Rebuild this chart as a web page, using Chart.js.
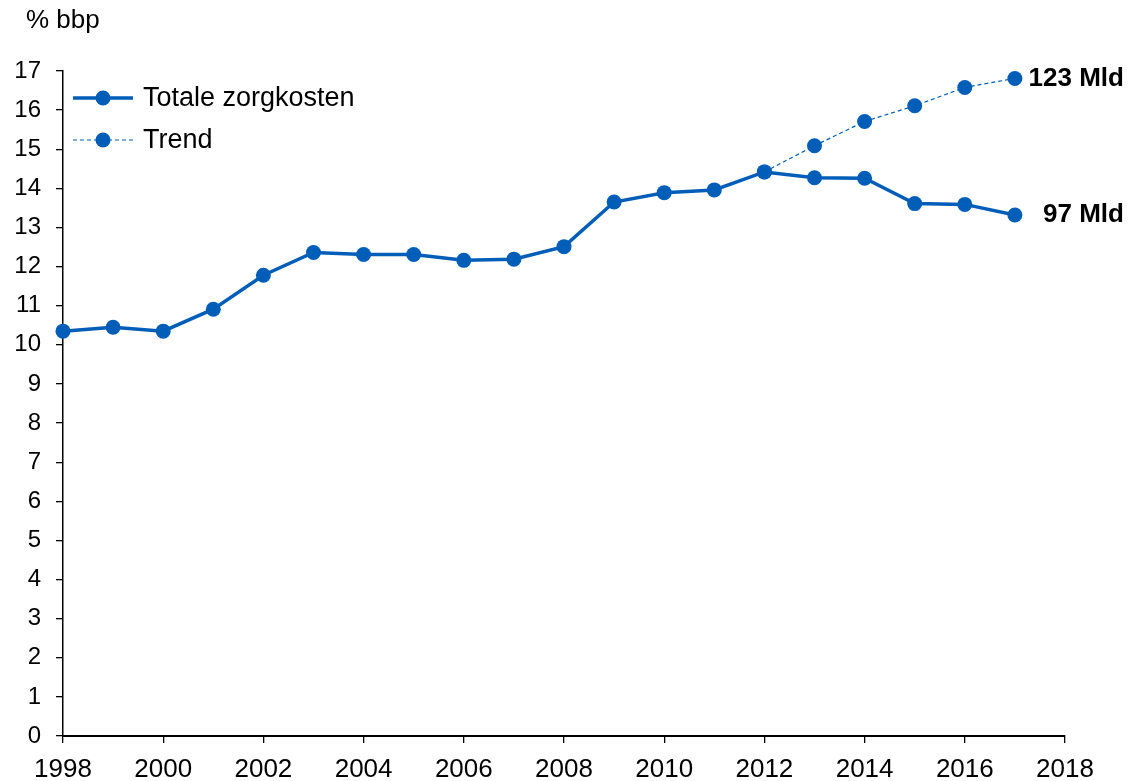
<!DOCTYPE html>
<html>
<head>
<meta charset="utf-8">
<script src="https://cdn.jsdelivr.net/npm/chart.js@4"></script>
<style>
  html, body { margin: 0; padding: 0; background: #fff; }
  #wrap { width: 1128px; height: 781px; position: relative; }
</style>
</head>
<body>
<div id="wrap"><canvas id="zorgChart" width="1128" height="781"></canvas></div>
<script>
// zorgkosten als % bbp, 1998-2017, plus trendlijn vanaf 2012
const years = [1998, 1999, 2000, 2001, 2002, 2003, 2004, 2005, 2006, 2007,
               2008, 2009, 2010, 2011, 2012, 2013, 2014, 2015, 2016, 2017];
const zorgkosten = [10.35, 10.45, 10.35, 10.91, 11.78, 12.36, 12.31, 12.31, 12.16, 12.19,
                    12.51, 13.65, 13.89, 13.96, 14.42, 14.27, 14.26, 13.61, 13.59, 13.32];
const trendYears = [2012, 2013, 2014, 2015, 2016, 2017];
const trend = [14.42, 15.09, 15.71, 16.11, 16.58, 16.81];
const seriesNames = ['Totale zorgkosten', 'Trend'];
const endLabels = ['97 Mld', '123 Mld'];

const blue = '#005EB8';
const font = 'Liberation Sans, Arial, sans-serif';

// legend in the top-left corner: line sample with a marker in the middle
const legendPlugin = {
  id: 'cornerLegend',
  afterDatasetsDraw(chart) {
    const { ctx, chartArea } = chart;
    const rows = [
      { y: chartArea.top + 27, width: 3.5, dash: [] },
      { y: chartArea.top + 69, width: 1.2, dash: [4, 3] }
    ];
    ctx.save();
    rows.forEach((r, i) => {
      const x0 = chartArea.left + 10, x1 = chartArea.left + 70;
      ctx.strokeStyle = blue;
      ctx.lineWidth = r.width;
      ctx.setLineDash(r.dash);
      ctx.beginPath();
      ctx.moveTo(x0, r.y);
      ctx.lineTo(x1, r.y);
      ctx.stroke();
      ctx.setLineDash([]);
      ctx.fillStyle = blue;
      ctx.beginPath();
      ctx.arc((x0 + x1) / 2, r.y, 7.5, 0, Math.PI * 2);
      ctx.fill();
      ctx.fillStyle = '#000';
      ctx.font = '27px ' + font;
      ctx.textAlign = 'left';
      ctx.textBaseline = 'middle';
      ctx.fillText(seriesNames[i], x1 + 10, r.y + 1);
    });
    ctx.restore();
  }
};

// unit above the y axis and the amounts next to the last points
const textPlugin = {
  id: 'extraText',
  afterDatasetsDraw(chart) {
    const { ctx } = chart;
    ctx.save();
    ctx.fillStyle = '#000';
    ctx.font = '26px ' + font;
    ctx.textAlign = 'left';
    ctx.textBaseline = 'alphabetic';
    ctx.fillText('% bbp', 26, 28);

    ctx.font = 'bold 26px ' + font;
    ctx.textAlign = 'right';
    ctx.textBaseline = 'middle';
    chart.data.datasets.forEach((ds, i) => {
      const pts = chart.getDatasetMeta(i).data;
      const last = pts[pts.length - 1];
      ctx.fillText(endLabels[i], last.x + 109, last.y);
    });
    ctx.restore();
  }
};

new Chart(document.getElementById('zorgChart'), {
  type: 'line',
  data: {
    datasets: [
      {
        label: seriesNames[0],
        data: years.map((y, i) => ({ x: y, y: zorgkosten[i] })),
        borderColor: blue,
        backgroundColor: blue,
        borderWidth: 3.5,
        pointRadius: 7.5,
        pointBorderWidth: 0,
        pointHoverRadius: 7.5,
        tension: 0,
        clip: false
      },
      {
        label: seriesNames[1],
        data: trendYears.map((y, i) => ({ x: y, y: trend[i] })),
        borderColor: blue,
        backgroundColor: blue,
        borderWidth: 1.2,
        borderDash: [4, 3],
        pointRadius: 7.5,
        pointBorderWidth: 0,
        pointHoverRadius: 7.5,
        tension: 0,
        clip: false
      }
    ]
  },
  options: {
    responsive: false,
    animation: false,
    layout: { padding: { left: 0, top: 71, right: 63, bottom: 0 } },
    plugins: {
      legend: { display: false },
      tooltip: { enabled: false }
    },
    scales: {
      x: {
        type: 'linear',
        min: 1998,
        max: 2018,
        afterFit(scale) { scale.height = 45; },
        ticks: {
          stepSize: 2,
          color: '#000',
          padding: 11,
          font: { family: font, size: 26 },
          callback: v => String(v)
        },
        grid: { display: true, drawOnChartArea: false, tickLength: 7, color: '#000', lineWidth: 1.3 },
        border: { display: true, color: '#000', width: 2 }
      },
      y: {
        min: 0,
        max: 17,
        afterFit(scale) { scale.width = 63; },
        ticks: {
          stepSize: 1,
          color: '#000',
          padding: 15,
          font: { family: font, size: 24 }
        },
        grid: { display: true, drawOnChartArea: false, tickLength: 7, color: '#000', lineWidth: 1.3 },
        border: { display: true, color: '#000', width: 1.5 }
      }
    }
  },
  plugins: [legendPlugin, textPlugin]
});
</script>
</body>
</html>
